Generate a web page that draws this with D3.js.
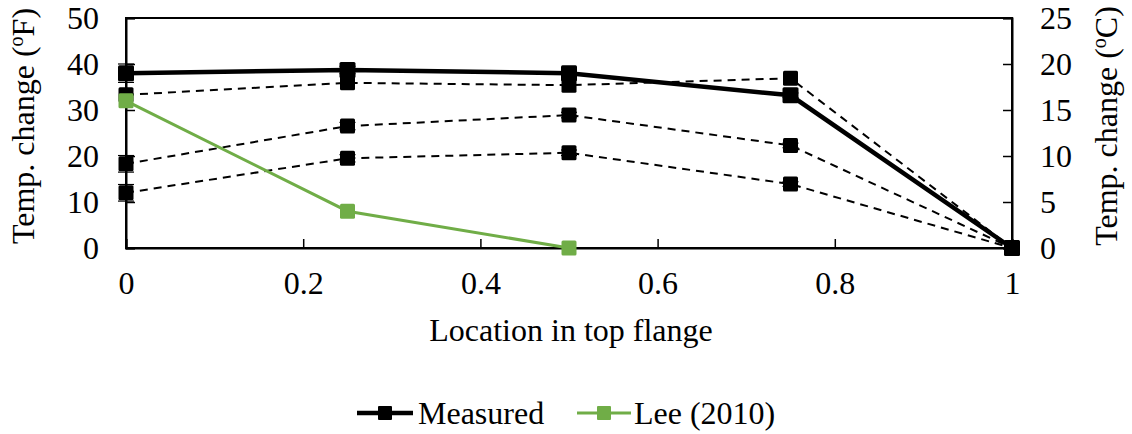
<!DOCTYPE html>
<html><head><meta charset="utf-8">
<script src="https://cdn.jsdelivr.net/npm/d3@7"></script>
<style>body{margin:0;background:#fff}svg{display:block}</style>
</head><body><svg id="c" width="1132" height="434" style="font-family:'Liberation Serif'"></svg>
<script>
const xValues = [0, 0.25, 0.5, 0.75, 1];
const measured = [38.0, 38.7, 38.0, 33.2, 0];
const measuredErr = [2.0, 0.8, 0.8, 0.5, 0];
const dashed1 = [33.3, 35.9, 35.4, 36.9, 0];
const dashed2 = [18.3, 26.5, 28.9, 22.3, 0];
const dashed2Err = [1.8, 0.8, 0.6, 0.5, 0];
const dashed3 = [12.0, 19.5, 20.7, 13.9, 0];
const dashed3Err = [1.8, 0.8, 0.6, 0.5, 0];
const leeX = [0, 0.25, 0.5];
const lee = [32.0, 8.0, 0];
const xTicks = [0, 0.2, 0.4, 0.6, 0.8, 1];
const yTicksF = [0, 10, 20, 30, 40, 50];
const yTicksC = [0, 5, 10, 15, 20, 25];

const FONT = "'Liberation Serif'";
const FS = "32px";
const svg = d3.select("#c");
const L = 126, R = 1012, T = 18, B = 248;
const x = d3.scaleLinear().domain([0, 1]).range([L, R]);
const y = d3.scaleLinear().domain([0, 50]).range([B, T]);
const yC = d3.scaleLinear().domain([0, 25]).range([B, T]);
const green = "#70AD47";
const styleText = sel => sel.style("font-family", FONT).style("font-size", FS).style("fill", "#000");

svg.append("rect").attr("x", L).attr("y", T).attr("width", R - L).attr("height", B - T)
  .attr("fill", "none").attr("stroke", "#000").attr("stroke-width", 2);

const ax = svg.append("g").attr("transform", `translate(0,${B})`)
  .call(d3.axisBottom(x).tickValues(xTicks).tickSize(-9).tickPadding(24).tickFormat(d3.format("")));
const ayl = svg.append("g").attr("transform", `translate(${L},0)`)
  .call(d3.axisLeft(y).tickValues(yTicksF).tickSize(-9).tickPadding(24));
const ayr = svg.append("g").attr("transform", `translate(${R},0)`)
  .call(d3.axisRight(yC).tickValues(yTicksC).tickSize(-9).tickPadding(24));
[ax, ayl, ayr].forEach(g => {
  g.attr("font-family", null).attr("font-size", null);
  g.select(".domain").attr("stroke", "#000").attr("stroke-width", 2);
  g.selectAll(".tick line").attr("stroke", "#000").attr("stroke-width", 1.5);
  styleText(g.selectAll(".tick text"));
});
ax.selectAll(".tick text").attr("y", 46).attr("dy", null);
ayl.selectAll(".tick text").attr("x", -27).attr("dy", "0.33em");
ayr.selectAll(".tick text").attr("x", 28).attr("dy", "0.33em");

styleText(svg.append("text").attr("x", 571).attr("y", 341).attr("text-anchor", "middle"))
  .text("Location in top flange");
function yTitle(tx, unit) {
  const t = styleText(svg.append("text").attr("transform", `translate(${tx},${126}) rotate(-90)`)
    .attr("text-anchor", "middle"));
  t.append("tspan").text("Temp. change (");
  t.append("tspan").style("font-size", "20px").attr("dy", -11).text("o");
  t.append("tspan").attr("dy", 11).text(unit + ")");
}
yTitle(34, "F");
yTitle(1117, "C");

const line = d3.line().x(d => x(d[0])).y(d => y(d[1]));
const zip = (xs, ys) => xs.map((v, i) => [v, ys[i]]);

function errBars(ys, es) {
  const g = svg.append("g");
  ys.forEach((v, i) => {
    if (!es[i]) return;
    const cx = x(xValues[i]);
    g.append("line").attr("x1", cx).attr("x2", cx).attr("y1", y(v + es[i])).attr("y2", y(v - es[i])).attr("stroke", "#000").attr("stroke-width", 1.5);
    [v + es[i], v - es[i]].forEach(e => g.append("line").attr("x1", cx - 8).attr("x2", cx + 8).attr("y1", y(e)).attr("y2", y(e)).attr("stroke", "#000").attr("stroke-width", 1.2));
  });
}
function markers(pts, color, s) {
  svg.append("g").selectAll("rect").data(pts).join("rect")
    .attr("x", d => x(d[0]) - s / 2).attr("y", d => y(d[1]) - s / 2)
    .attr("width", s).attr("height", s).attr("rx", 1.5).attr("fill", color);
}

[[dashed1, null], [dashed2, dashed2Err], [dashed3, dashed3Err]].forEach(([ys, es]) => {
  svg.append("path").datum(zip(xValues, ys)).attr("d", line).attr("fill", "none")
    .attr("stroke", "#000").attr("stroke-width", 2).attr("stroke-dasharray", "8,6");
  if (es) errBars(ys, es);
  markers(zip(xValues, ys), "#000", 15);
});
svg.append("path").datum(zip(leeX, lee)).attr("d", line).attr("fill", "none")
  .attr("stroke", green).attr("stroke-width", 3);
markers(zip(leeX, lee), green, 15);
errBars(measured, measuredErr);
svg.append("path").datum(zip(xValues, measured)).attr("d", line).attr("fill", "none")
  .attr("stroke", "#000").attr("stroke-width", 4.5);
markers(zip(xValues, measured), "#000", 16);

const lg = svg.append("g");
lg.append("line").attr("x1", 357).attr("x2", 413).attr("y1", 413).attr("y2", 413).attr("stroke", "#000").attr("stroke-width", 4.5);
lg.append("rect").attr("x", 378).attr("y", 406).attr("width", 14).attr("height", 14).attr("rx", 1).attr("fill", "#000");
styleText(lg.append("text").attr("x", 418).attr("y", 424)).text("Measured");
lg.append("line").attr("x1", 577).attr("x2", 631).attr("y1", 413).attr("y2", 413).attr("stroke", green).attr("stroke-width", 3);
lg.append("rect").attr("x", 597).attr("y", 406).attr("width", 14).attr("height", 14).attr("rx", 1).attr("fill", green);
styleText(lg.append("text").attr("x", 634).attr("y", 424)).text("Lee (2010)");
</script></body></html>
